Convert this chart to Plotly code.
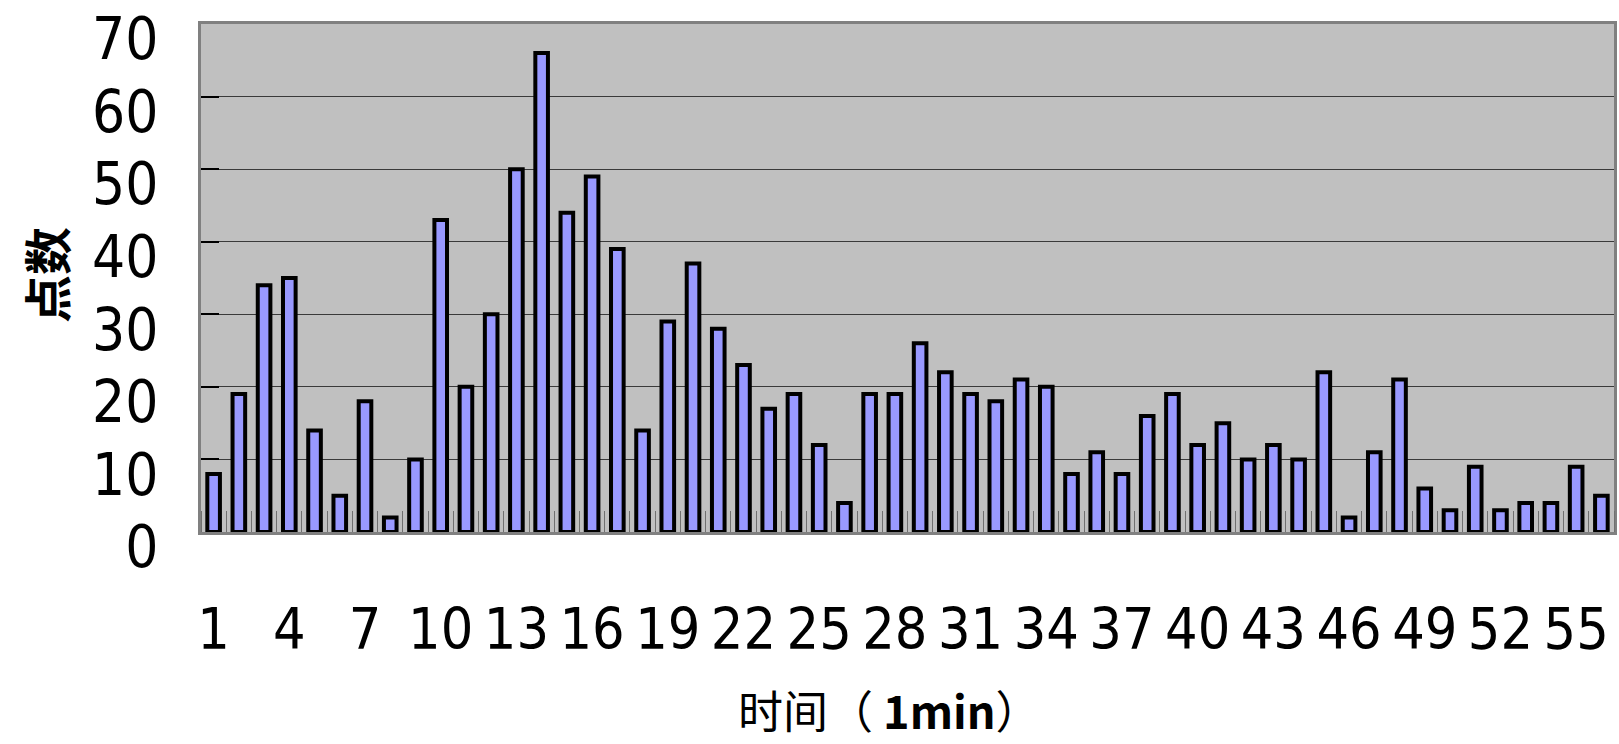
import plotly.graph_objects as go

# Minute index and the number of points counted in each minute
minutes = list(range(1, 57))
counts = [8, 19, 34, 35, 14, 5, 18, 2, 10, 43,
          20, 30, 50, 66, 44, 49, 39, 14, 29, 37,
          28, 23, 17, 19, 12, 4, 19, 19, 26, 22,
          19, 18, 21, 20, 8, 11, 8, 16, 19, 12,
          15, 10, 12, 10, 22, 2, 11, 21, 6, 3,
          9, 3, 4, 4, 9, 5]
x_tick_vals = list(range(1, 57, 3))
x_tick_text = [str(v) for v in x_tick_vals]
y_tick_vals = [0, 10, 20, 30, 40, 50, 60, 70]

num_font = "DejaVu Sans Condensed, DejaVu Sans, sans-serif"
cjk_font = "Noto Sans CJK SC, sans-serif"

fig = go.Figure(
    go.Bar(
        x=minutes,
        y=counts,
        marker=dict(color="#9999FF", line=dict(color="#000000", width=4)),
        width=0.5,
        hoverinfo="x+y",
    )
)

fig.update_layout(
    width=1619,
    height=744,
    margin=dict(l=201, r=2, t=24, b=212),
    paper_bgcolor="#FFFFFF",
    plot_bgcolor="#C0C0C0",
    showlegend=False,
    font=dict(family=num_font, color="#000000"),
)

fig.update_xaxes(
    range=[0.5, 56.5],
    tickmode="array",
    tickvals=x_tick_vals,
    ticktext=x_tick_text,
    ticks="",
    tickfont=dict(family=num_font, size=57, color="#000000"),
    ticklabelstandoff=46,
    showgrid=False,
    zeroline=False,
    showline=True,
    linecolor="#808080",
    linewidth=3,
    mirror=True,
    minor=dict(ticks="inside", ticklen=21, tickwidth=1.2, tickcolor="#707070",
               tick0=0.5, dtick=1, showgrid=False),
)

fig.update_yaxes(
    range=[0, 70],
    tickmode="array",
    tickvals=y_tick_vals,
    ticks="inside",
    ticklen=18,
    tickwidth=1.5,
    tickcolor="#000000",
    tickfont=dict(family=num_font, size=58, color="#000000"),
    ticklabelshift=15,
    ticklabelstandoff=28,
    ticklabeloverflow="allow",
    showgrid=True,
    gridcolor="#3A3A3A",
    gridwidth=1.3,
    zeroline=False,
    showline=True,
    linecolor="#808080",
    linewidth=3,
    mirror=True,
)

# Axis titles
fig.add_annotation(
    text="点数",
    xref="paper", yref="paper",
    x=-0.110, y=0.505,
    xanchor="center", yanchor="middle",
    textangle=-90,
    showarrow=False,
    font=dict(family=cjk_font, size=48, color="#000000", weight="bold"),
)
fig.add_annotation(
    text="时间（ <b>1min</b>）",
    xref="paper", yref="paper",
    x=0.487, y=-0.349,
    xanchor="center", yanchor="middle",
    showarrow=False,
    font=dict(family=cjk_font, size=45, color="#000000"),
)

fig.write_html("out.html")
